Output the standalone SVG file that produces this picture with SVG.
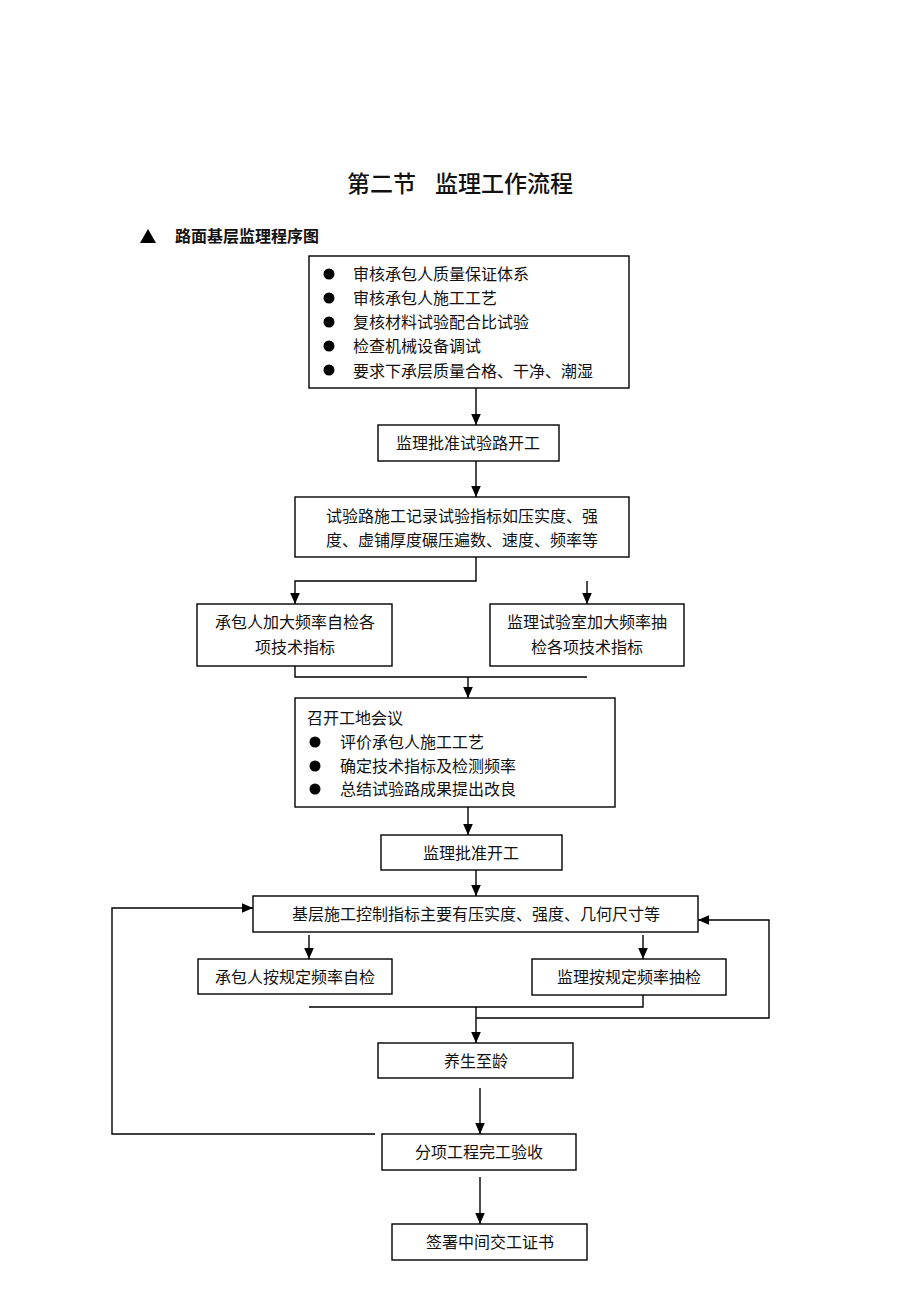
<svg xmlns="http://www.w3.org/2000/svg" width="920" height="1302" viewBox="0 0 920 1302">
<style>
.box{fill:#fff;stroke:#000;stroke-width:1.4}
.t{font-family:"Noto Sans CJK SC","Noto Sans CJK JP",sans-serif;font-size:16px;fill:#111}
.c{text-anchor:middle}
.ln{fill:none;stroke:#000;stroke-width:1.4}
.arr{fill:none;stroke:#000;stroke-width:1.4;marker-end:url(#ah)}
.dot{fill:#000}
</style>
<defs>
<marker id="ah" viewBox="0 0 10 10" refX="10" refY="5" markerWidth="11" markerHeight="11" markerUnits="userSpaceOnUse" orient="auto">
<path d="M0,0.6 L10,5 L0,9.4 Z" fill="#000"/>
</marker>
</defs>
<rect width="920" height="1302" fill="#fff"/>
<g id="title">
<text x="347" y="192" font-family="'Noto Sans CJK SC',sans-serif" font-size="23" font-weight="500" fill="#111">第二节</text>
<text x="435" y="192" font-family="'Noto Sans CJK SC',sans-serif" font-size="23" font-weight="500" fill="#111">监理工作流程</text>
</g>
<g id="heading">
<path d="M140,243 L148,229 L156,243 Z" fill="#000"/>
<text x="175" y="242" font-family="'Noto Sans CJK SC',sans-serif" font-size="16" font-weight="bold" fill="#111">路面基层监理程序图</text>
</g>
<g id="n1">
<rect class="box" x="309" y="256" width="320" height="132"/>
<circle class="dot" cx="329" cy="274" r="5.5"/><text class="t" x="353" y="280">审核承包人质量保证体系</text>
<circle class="dot" cx="329" cy="298" r="5.5"/><text class="t" x="353" y="304">审核承包人施工工艺</text>
<circle class="dot" cx="329" cy="322" r="5.5"/><text class="t" x="353" y="328">复核材料试验配合比试验</text>
<circle class="dot" cx="329" cy="346" r="5.5"/><text class="t" x="353" y="352">检查机械设备调试</text>
<circle class="dot" cx="329" cy="370" r="5.5"/><text class="t" x="353" y="377">要求下承层质量合格、干净、潮湿</text>
</g>
<g id="n2">
<rect class="box" x="378" y="425" width="181" height="36"/>
<text class="t c" x="468" y="449">监理批准试验路开工</text>
</g>
<g id="n3">
<rect class="box" x="295" y="497" width="334" height="60"/>
<text class="t c" x="462" y="522">试验路施工记录试验指标如压实度、强</text>
<text class="t c" x="462" y="546">度、虚铺厚度碾压遍数、速度、频率等</text>
</g>
<g id="n4">
<rect class="box" x="197" y="604" width="195" height="62"/>
<text class="t c" x="295" y="628">承包人加大频率自检各</text>
<text class="t c" x="295" y="653">项技术指标</text>
</g>
<g id="n5">
<rect class="box" x="490" y="604" width="194" height="62"/>
<text class="t c" x="587" y="628">监理试验室加大频率抽</text>
<text class="t c" x="587" y="653">检各项技术指标</text>
</g>
<g id="n6">
<rect class="box" x="295" y="698" width="320" height="109"/>
<text class="t" x="307" y="724">召开工地会议</text>
<circle class="dot" cx="315" cy="742" r="5.5"/><text class="t" x="340" y="748">评价承包人施工工艺</text>
<circle class="dot" cx="315" cy="766" r="5.5"/><text class="t" x="340" y="772">确定技术指标及检测频率</text>
<circle class="dot" cx="315" cy="789" r="5.5"/><text class="t" x="340" y="795">总结试验路成果提出改良</text>
</g>
<g id="n7">
<rect class="box" x="381" y="835" width="181" height="35"/>
<text class="t c" x="471" y="859">监理批准开工</text>
</g>
<g id="n8">
<rect class="box" x="253" y="896" width="445" height="36"/>
<text class="t c" x="476" y="920">基层施工控制指标主要有压实度、强度、几何尺寸等</text>
</g>
<g id="n9">
<rect class="box" x="198" y="959" width="194" height="35"/>
<text class="t c" x="295" y="983">承包人按规定频率自检</text>
</g>
<g id="n10">
<rect class="box" x="532" y="959" width="194" height="36"/>
<text class="t c" x="629" y="983">监理按规定频率抽检</text>
</g>
<g id="n11">
<rect class="box" x="378" y="1043" width="195" height="35"/>
<text class="t c" x="476" y="1067">养生至龄</text>
</g>
<g id="n12">
<rect class="box" x="382" y="1134" width="194" height="36"/>
<text class="t c" x="479" y="1158">分项工程完工验收</text>
</g>
<g id="n13">
<rect class="box" x="392" y="1224" width="195" height="36"/>
<text class="t c" x="490" y="1248">签署中间交工证书</text>
</g>
<g id="connectors">
<path class="arr" d="M476,388 V425"/>
<path class="arr" d="M476,461 V497"/>
<path class="arr" d="M476,557 V581 H295 V604"/>
<path class="arr" d="M587,581 V604"/>
<path class="ln" d="M295,666 V677 H587"/>
<path class="arr" d="M468,677 V698"/>
<path class="arr" d="M468,807 V835"/>
<path class="arr" d="M476,870 V896"/>
<path class="arr" d="M309,935 V959"/>
<path class="arr" d="M643,935 V959"/>
<path class="ln" d="M643,995 V1007 H309"/>
<path class="arr" d="M476,1007 V1043"/>
<path class="arr" d="M476,1018 H769 V920 H698"/>
<path class="arr" d="M480,1088 V1134"/>
<path class="arr" d="M480,1177 V1224"/>
<path class="arr" d="M375,1134 H112 V908 H253"/>
</g>
</svg>
